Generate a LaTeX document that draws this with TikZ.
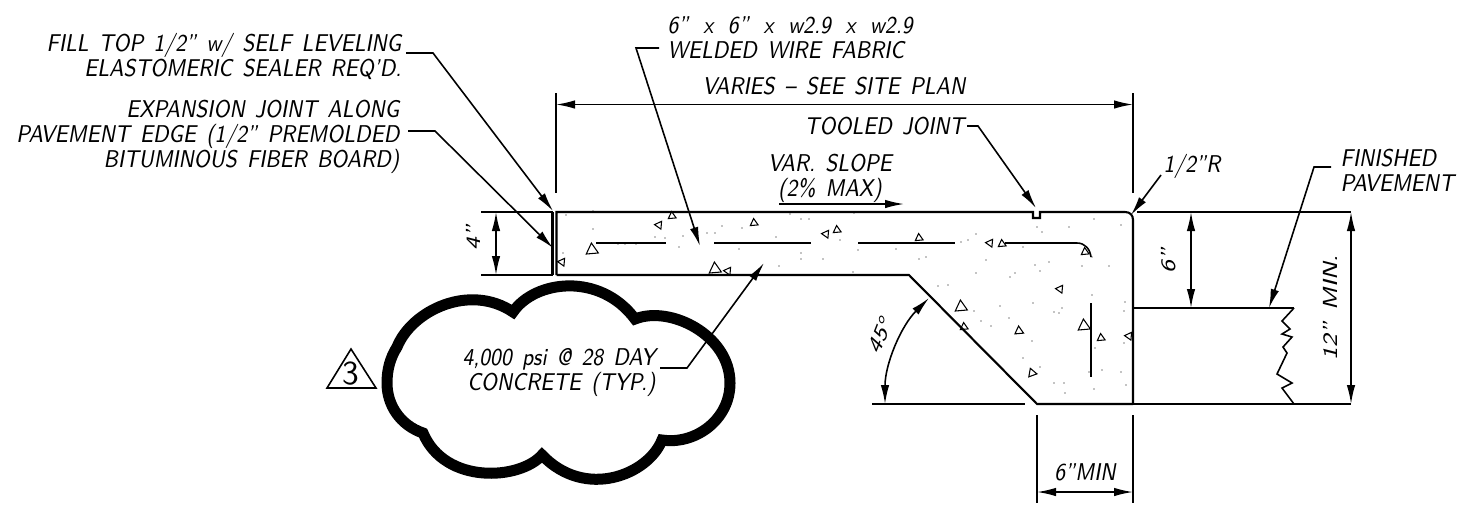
\documentclass[tikz,border=0pt]{standalone}
\usepackage{tikz}
\usetikzlibrary{arrows.meta, positioning}
\tikzset{
slabline/.style={line width=0.6pt}, % outline of the concrete and pavement
thinline/.style={line width=0.45pt},
leader/.style={line width=0.45pt, -{Latex[length=1.9mm,width=0.85mm]}},
dimline/.style={line width=0.45pt, {Latex[length=1.9mm,width=0.85mm]}-{Latex[length=1.9mm,width=0.85mm]}},
cadtext/.style={font=\fontsize{6.9}{7.1}\selectfont\sffamily\slshape\spaceskip 0.5em\lineskiplimit -4pt\relax, inner sep=0pt, align=right, xscale=0.84, transform shape},
aggregate/.style={line width=0.3pt},
}
\begin{document}
\begin{tikzpicture}[x=0.01cm, y=-0.01cm]
\useasboundingbox (0,0) rectangle (1473,508);
% slab outline
\draw[slabline] (481,212) -- (553,212) (481,275) -- (553,275);
\draw[line width=0.7pt] (552.5,212) -- (552.5,275);
\draw[slabline] (556.5,275) -- (556.5,212) -- (1033,212) -- (1033,218) -- (1040,218) -- (1040,212) -- (1125,212) .. controls (1130,212) and (1133,215) .. (1133,220) -- (1133,404);
\draw[slabline] (556.5,275) -- (909,275) -- (1037,404) -- (1133,404);
\draw[slabline] (872,404) -- (1025,404);
\draw[slabline] (1137,212) -- (1351,212);
\draw[slabline] (1133,404) -- (1351,404);
\draw[slabline] (1133,308) -- (1294,308);
\draw[thinline] (1294,308) -- (1282,321) -- (1290,329) -- (1282,334) -- (1292,337) -- (1283,347) -- (1287,353) -- (1277,374) -- (1292,383) -- (1282,388) -- (1294,404);
% wire fabric
\draw[thinline] (596,243) -- (666,243);
\draw[thinline] (714,243) -- (811,243);
\draw[thinline] (858,243) -- (955,243);
\draw[thinline] (1005,243) -- (1077,243) .. controls (1085,243) and (1090,249) .. (1091,257);
\draw[thinline] (1091,303) -- (1091,377);
% stones and sand
\foreach \px/\py/\ps/\pr in {672/216/4.5/265, 659/225/4.5/185, 592/250/7/265, 562/262/4.5/185, 754/223/4.5/265, 826/234/4.5/185, 837/230/4.5/265, 919/238/4.5/265, 990/243/4.5/185, 1002/244/4.5/265, 1085/252/4.5/265, 715/269/7/265, 728/271/4.5/185, 1060/289/4.5/185, 961/307/7/265, 964/327/4.5/265, 1084/326/7/265, 1101/338/4.5/265, 1129/336/4.5/185, 1019/331/5/265, 1032/373/5/250}
\draw[aggregate] (\px,\py) ++(\pr:\ps) -- ++(\pr+150:1.732*\ps) -- ++(\pr+270:1.732*\ps) -- cycle;
\foreach \px/\py in {790/214, 801/219, 809/219, 854/213, 722/226, 742/228, 715/233, 707/233, 776/237, 840/240, 739/249, 801/253, 801/259, 823/259, 858/250, 896/249, 926/257, 919/259, 961/242, 968/240, 976/234, 986/260, 1049/262, 1035/265, 1023/247, 1037/227, 1042/232, 1069/227, 1094/219, 1121/225, 1109/266, 1092/257, 1082/266, 1040/271, 1015/273, 1010/277, 853/272, 779/266, 938/286, 948/285, 976/273, 1000/306, 1033/303, 1062/308, 1054/312, 1059/313, 1092/295, 1125/302, 1124/311, 991/326, 1009/318, 974/311, 981/321, 1032/341, 1023/358, 1095/348, 1124/343, 1054/383, 1064/383, 1065/393, 1094/389, 1126/385, 1121/372, 1102/370, 1089/372, 1040/367, 566/215, 593/211, 593/229, 655/237, 665/238, 683/236, 679/247, 618/244, 625/244, 636/244, 563/253}
\fill (\px,\py) circle (0.6);
% dimensions
\coordinate (topleftext) at (556,93);
\coordinate (topleftend) at (556,193);
\coordinate (toprightext) at (1133,93);
\coordinate (toprightend) at (1133,193);
\draw[thinline] (topleftext) -- (topleftend);
\draw[thinline] (toprightext) -- (toprightend);
\coordinate (variesl) at (556,104.5);
\coordinate (variesr) at (1133,104.5);
\draw[dimline] (variesl) -- (variesr);
\node[cadtext] (varies) at (834,86) {VARIES -- SEE SITE PLAN};
\coordinate (foura) at (496,212);
\coordinate (fourb) at (496,275);
\draw[dimline] (foura) -- (fourb);
\node[cadtext, rotate=90] (four) at (473,238) {4"};
\coordinate (sixa) at (1191,212);
\coordinate (sixb) at (1191,308);
\draw[dimline] (sixa) -- (sixb);
\node[cadtext, rotate=90] (six) at (1169,261) {6"};
\coordinate (twelvea) at (1351,212);
\coordinate (twelveb) at (1351,404);
\draw[dimline] (twelvea) -- (twelveb);
\node[cadtext, rotate=90] (twelve) at (1330,308) {12" MIN.};
\coordinate (minl) at (1037,415);
\coordinate (minlb) at (1037,503);
\coordinate (minr) at (1133,415);
\coordinate (minrb) at (1133,503);
\draw[thinline] (minl) -- (minlb);
\draw[thinline] (minr) -- (minrb);
\coordinate (mina) at (1037,492);
\coordinate (minb) at (1133,492);
\draw[dimline] (mina) -- (minb);
\node[cadtext] (sixmin) at (1085,472) {6"MIN};
\coordinate (anglea) at (885,404);
\coordinate (angleb) at (929,298);
\draw[dimline] (anglea) .. controls (885,364) and (901,326) .. (angleb);
\node[cadtext, rotate=65] (angle) at (880,336) {45°};
% slope arrow
\node[cadtext, align=center] (slope) at (830,178) {VAR. SLOPE\\(2\% MAX)};
\coordinate (slopea) at (779,204);
\coordinate (slopeb) at (904,204);
\draw[leader] (slopea) -- (slopeb);
% notes with leaders
\node[cadtext, anchor=east] (fill) at (402,56) {FILL TOP 1/2" w/ SELF LEVELING\\ELASTOMERIC SEALER REQ'D.};
\coordinate (fillbend) at (433,53);
\coordinate (filltip) at (553,211);
\draw[leader] (406,53) -- (fillbend) -- (filltip);
\node[cadtext, anchor=east] (joint) at (400,137) {EXPANSION JOINT ALONG\\PAVEMENT EDGE (1/2" PREMOLDED\\BITUMINOUS FIBER BOARD)};
\coordinate (jointbend) at (435,131);
\coordinate (jointtip) at (553,248);
\draw[leader] (408,131) -- (jointbend) -- (jointtip);
\node[cadtext, anchor=west, align=left] (fabric) at (667,38) {6"\hspace{.72em}x\hspace{.72em}6"\hspace{.72em}x\hspace{.72em}w2.9\hspace{.72em}x\hspace{.72em}w2.9\\WELDED WIRE FABRIC};
\coordinate (fabricbend) at (636,48);
\coordinate (fabrictip) at (700,246);
\draw[leader] (659,48) -- (fabricbend) -- (fabrictip);
\node[cadtext, anchor=east] (tooled) at (965,126) {TOOLED JOINT};
\coordinate (tooledbend) at (978,126);
\coordinate (tooledtip) at (1036,208);
\draw[leader] (967,126) -- (tooledbend) -- (tooledtip);
\node[cadtext, anchor=west] (radius) at (1163,166) {1/2"R};
\coordinate (radiusa) at (1161,175);
\coordinate (radiustip) at (1131,215);
\draw[leader] (radiusa) -- (radiustip);
\node[cadtext, anchor=west, align=left] (pavement) at (1340,170) {FINISHED\\PAVEMENT};
\coordinate (pavebend) at (1314,167);
\coordinate (pavetip) at (1269,308);
\draw[leader] (1331,167) -- (pavebend) -- (pavetip);
\node[cadtext, anchor=east] (concrete) at (656,372) {4,000 psi @ 28 DAY\\CONCRETE (TYP.)};
\coordinate (concretebend) at (687,368);
\coordinate (concretetip) at (764,263);
\draw[leader] (660,368) -- (concretebend) -- (concretetip);
% revision cloud
\draw[line width=0.11cm, miter limit=3] (397,347) .. controls (412,310) and (470,283) .. (513,312) .. controls (535,280) and (600,272) .. (635,319) .. controls (670,305) and (730,335) .. (730,383) .. controls (730,420) and (695,445) .. (662,440) .. controls (648,475) and (585,500) .. (542,455) .. controls (520,480) and (445,485) .. (423,433) .. controls (400,425) and (387,405) .. (387,383) .. controls (387,370) and (390,358) .. (397,347) -- cycle;
% revision mark
\coordinate (reva) at (327,388);
\coordinate (revb) at (351,349);
\coordinate (revc) at (376,388);
\draw[thinline] (reva) -- (revb) -- (revc) -- cycle;
\node[font=\fontsize{9.5}{10}\selectfont\sffamily, inner sep=0pt] (revno) at (351,374) {3};
\end{tikzpicture}
\end{document}
